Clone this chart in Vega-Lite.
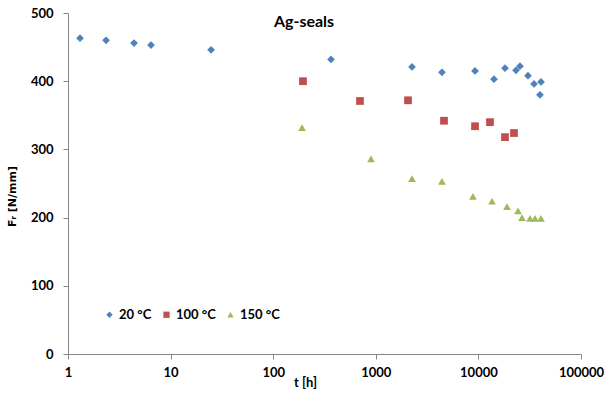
{
  "$schema": "https://vega.github.io/schema/vega-lite/v6.json",
  "width": 513,
  "height": 341,
  "autosize": {"type": "none"},
  "padding": {"left": 68, "top": 13, "right": 31, "bottom": 40},
  "background": "white",
  "title": {
    "text": "Ag-seals",
    "anchor": "middle",
    "frame": "group",
    "orient": "none",
    "baseline": "alphabetic",
    "dy": 14,
    "dx": 236,
    "font": "Lato",
    "fontSize": 16,
    "fontWeight": "bold",
    "color": "black"
  },
  "data": {
    "values": [
      {"t": 1.31, "F": 463, "T": "20 °C"},
      {"t": 2.35, "F": 460, "T": "20 °C"},
      {"t": 4.4, "F": 456, "T": "20 °C"},
      {"t": 6.44, "F": 453, "T": "20 °C"},
      {"t": 24.8, "F": 446, "T": "20 °C"},
      {"t": 366, "F": 432, "T": "20 °C"},
      {"t": 2254, "F": 421, "T": "20 °C"},
      {"t": 4416, "F": 413, "T": "20 °C"},
      {"t": 9270, "F": 415, "T": "20 °C"},
      {"t": 14190, "F": 403, "T": "20 °C"},
      {"t": 18160, "F": 419, "T": "20 °C"},
      {"t": 23240, "F": 416, "T": "20 °C"},
      {"t": 25430, "F": 422, "T": "20 °C"},
      {"t": 30420, "F": 408, "T": "20 °C"},
      {"t": 34830, "F": 396, "T": "20 °C"},
      {"t": 40740, "F": 399, "T": "20 °C"},
      {"t": 39810, "F": 380, "T": "20 °C"},
      {"t": 195, "F": 400, "T": "100 °C"},
      {"t": 701, "F": 371, "T": "100 °C"},
      {"t": 2060, "F": 372, "T": "100 °C"},
      {"t": 4620, "F": 342, "T": "100 °C"},
      {"t": 9270, "F": 334, "T": "100 °C"},
      {"t": 12970, "F": 340, "T": "100 °C"},
      {"t": 18160, "F": 318, "T": "100 °C"},
      {"t": 22230, "F": 324, "T": "100 °C"},
      {"t": 191, "F": 332, "T": "150 °C"},
      {"t": 898, "F": 286, "T": "150 °C"},
      {"t": 2254, "F": 257, "T": "150 °C"},
      {"t": 4416, "F": 253, "T": "150 °C"},
      {"t": 8850, "F": 231, "T": "150 °C"},
      {"t": 13570, "F": 224, "T": "150 °C"},
      {"t": 19010, "F": 216, "T": "150 °C"},
      {"t": 24320, "F": 210, "T": "150 °C"},
      {"t": 26600, "F": 200, "T": "150 °C"},
      {"t": 31840, "F": 199, "T": "150 °C"},
      {"t": 35620, "F": 199, "T": "150 °C"},
      {"t": 40740, "F": 199, "T": "150 °C"}
    ]
  },
  "mark": {"type": "point", "filled": true, "opacity": 1, "size": 60},
  "encoding": {
    "x": {
      "field": "t",
      "type": "quantitative",
      "scale": {"type": "log", "domain": [1, 100000], "nice": false},
      "axis": {
        "title": "t [h]",
        "values": [1, 10, 100, 1000, 10000, 100000],
        "format": "d",
        "grid": false,
        "domainColor": "#868686",
        "tickColor": "#868686",
        "tickSize": 5,
        "labelPadding": 7,
        "labelFont": "Lato",
        "labelFontSize": 13,
        "labelFontWeight": "bold",
        "labelColor": "black",
        "labelFlush": false,
        "titleFont": "Lato",
        "titleFontSize": 13,
        "titleFontWeight": "bold",
        "titleColor": "black",
        "titleX": 237,
        "titleY": 32,
        "titleAlign": "center",
        "titleBaseline": "alphabetic"
      }
    },
    "y": {
      "field": "F",
      "type": "quantitative",
      "scale": {"domain": [0, 500], "nice": false, "zero": true},
      "axis": {
        "title": "Fᵣ  [N/mm]",
        "values": [0, 100, 200, 300, 400, 500],
        "grid": false,
        "domainColor": "#868686",
        "tickColor": "#868686",
        "tickSize": 5,
        "labelPadding": 10,
        "labelFont": "Lato",
        "labelFontSize": 13,
        "labelFontWeight": "bold",
        "labelColor": "black",
        "titleFont": "DejaVu Sans",
        "titleFontSize": 11,
        "titleFontWeight": "bold",
        "titleColor": "black",
        "titleAngle": -90,
        "titleX": -56,
        "titleY": 183,
        "titleAlign": "center",
        "titleBaseline": "middle"
      }
    },
    "color": {
      "field": "T",
      "type": "nominal",
      "sort": ["20 °C", "100 °C", "150 °C"],
      "scale": {"domain": ["20 °C", "100 °C", "150 °C"], "range": ["#4F81BD", "#C0504D", "#9BBB59"]},
      "legend": {
        "title": null,
        "orient": "none",
        "direction": "horizontal",
        "legendX": 35,
        "legendY": 295,
        "symbolSize": 40,
        "columnPadding": 8,
        "labelOffset": 3,
        "labelFont": "Lato",
        "labelFontSize": 13,
        "labelFontWeight": "bold",
        "labelColor": "black"
      }
    },
    "shape": {
      "field": "T",
      "type": "nominal",
      "sort": ["20 °C", "100 °C", "150 °C"],
      "scale": {"domain": ["20 °C", "100 °C", "150 °C"], "range": ["diamond", "square", "triangle-up"]},
      "legend": null
    }
  },
  "config": {
    "view": {"stroke": null}
  }
}
